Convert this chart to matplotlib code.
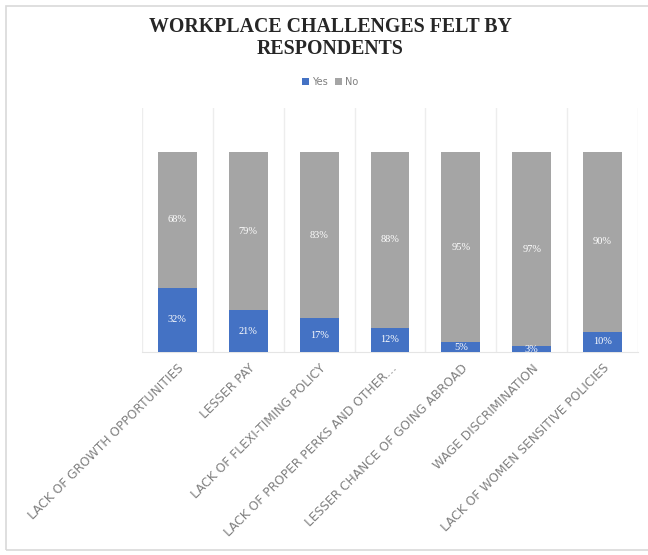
import matplotlib.pyplot as plt
import numpy as np
from matplotlib.patches import Rectangle

# Survey results (% of respondents)
challenges = [
    'LACK OF GROWTH OPPORTUNITIES',
    'LESSER PAY',
    'LACK OF FLEXI-TIMING POLICY',
    'LACK OF PROPER PERKS AND OTHER…',
    'LESSER CHANCE OF GOING ABROAD',
    'WAGE DISCRIMINATION',
    'LACK OF WOMEN SENSITIVE POLICIES',
]
yes_pct = [32, 21, 17, 12, 5, 3, 10]
no_pct = [68, 79, 83, 88, 95, 97, 90]

blue = '#4472C4'
grey = '#A5A5A5'

fig = plt.figure(figsize=(6.48, 5.55), dpi=100)

# thin chart-area border
fig.patches.append(Rectangle((6 / 648, 5 / 555), 700 / 648, 544 / 555,
                             transform=fig.transFigure, fill=False,
                             edgecolor='#D9D9D9', linewidth=1.2))

ax = fig.add_axes([142 / 648, 1 - 352 / 555, 496 / 648, 244 / 555])

x = np.arange(len(challenges))
w = 0.55
b1 = ax.bar(x, yes_pct, w, color=blue, label='Yes', zorder=3)
b2 = ax.bar(x, no_pct, w, bottom=yes_pct, color=grey, label='No', zorder=3)

# percentage labels in the middle of each segment
for i in range(len(x)):
    ax.text(x[i], yes_pct[i] / 2, f'{yes_pct[i]}%', ha='center', va='center',
            color='white', fontsize=7.5, family='Liberation Serif', zorder=4)
    ax.text(x[i], yes_pct[i] + no_pct[i] / 2, f'{no_pct[i]}%', ha='center',
            va='center', color='white', fontsize=7.5, family='Liberation Serif',
            zorder=4)

# faint separators between categories
for b in np.arange(-0.5, len(x), 1.0):
    ax.axvline(b, color='#EDEDED', linewidth=1, zorder=1)

ax.set_xlim(-0.5, len(x) - 0.5)
ax.set_ylim(0, 122)
ax.set_yticks([])
ax.set_xticks(x)
ax.set_xticklabels(challenges, rotation=45, ha='right', rotation_mode='anchor',
                   fontsize=8.8, color='#808080')
ax.tick_params(axis='x', length=0, pad=7)
for s in ['top', 'left', 'right']:
    ax.spines[s].set_visible(False)
ax.spines['bottom'].set_color('#E5E5E5')

fig.text(330 / 648, 1 - 38 / 555, 'WORKPLACE CHALLENGES FELT BY\nRESPONDENTS',
         ha='center', va='center', fontsize=14.3, fontweight='bold',
         family='Liberation Serif', color='#262626', linespacing=1.1)

fig.legend(handles=[b1, b2], labels=['Yes', 'No'], loc='center',
           bbox_to_anchor=(330 / 648, 1 - 82 / 555), ncol=2, frameon=False,
           fontsize=7, labelcolor='#7F7F7F', handlelength=0.7, handleheight=0.7,
           handletextpad=0.3, columnspacing=0.8)

plt.savefig('out.png', dpi=100, facecolor='white')
